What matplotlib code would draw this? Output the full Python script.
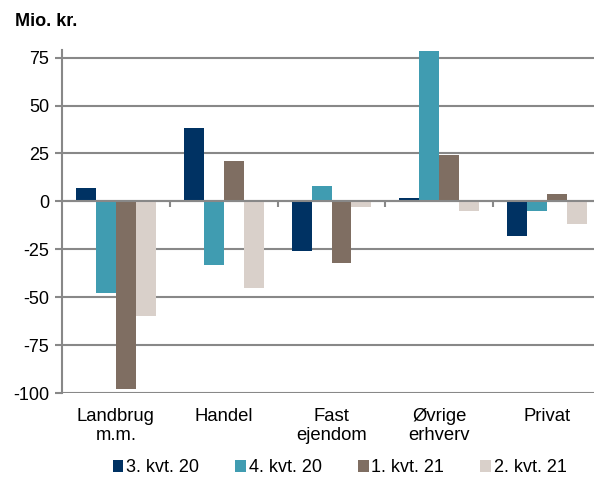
import numpy as np
import matplotlib.pyplot as plt

plt.rcParams['font.family'] = ['Liberation Sans', 'DejaVu Sans']
plt.rcParams['axes.unicode_minus'] = False

categories = ['Landbrug\nm.m.', 'Handel', 'Fast\nejendom', 'Øvrige\nerhverv', 'Privat']
series_names = ['3. kvt. 20', '4. kvt. 20', '1. kvt. 21', '2. kvt. 21']
q3_20 = [7, 38.5, -26, 2, -18]
q4_20 = [-48, -33, 8, 78.5, -5]
q1_21 = [-98, 21, -32, 24, 4]
q2_21 = [-60, -45, -3, -5, -12]
colors = ['#003263', '#409CB1', '#7F6E62', '#D9D0CA']
yticks = [-100, -75, -50, -25, 0, 25, 50, 75]

fig = plt.figure(figsize=(5.94, 4.8), dpi=100)
# axes runs slightly past the right edge, as in the reference
ax = fig.add_axes([62 / 594, 87 / 480, 539 / 594, 343 / 480])

x = np.arange(len(categories))
w = 0.185
for i, (vals, col, name) in enumerate(zip([q3_20, q4_20, q1_21, q2_21], colors, series_names)):
    ax.bar(x + (i - 1.5) * w, vals, w, color=col, label=name, zorder=3)

ax.set_xlim(-0.5, len(categories) - 0.5)
ax.set_ylim(-100, 79)
ax.set_yticks(yticks)
ax.yaxis.grid(True, color='#888888', linewidth=1.5, zorder=0)

for s in ['top', 'right']:
    ax.spines[s].set_visible(False)
ax.spines['left'].set_color('#888888')
ax.spines['left'].set_linewidth(1.5)
# x axis line sits at zero
ax.spines['bottom'].set_position(('data', 0))
ax.spines['bottom'].set_color('#888888')
ax.spines['bottom'].set_linewidth(1.5)
ax.spines['bottom'].set_zorder(4)

ax.set_xticks(x)
ax.set_xticklabels([])
ax.tick_params(axis='x', length=0)
ax.set_xticks(np.arange(0.5, len(categories) - 0.5), minor=True)
ax.tick_params(axis='x', which='minor', length=4, width=1.5, color='#888888', direction='out')
ax.tick_params(axis='y', length=5, width=1.5, color='#888888', labelsize=13, pad=4)

for i, cat in enumerate(categories):
    ax.annotate(cat, xy=(i, 0), xycoords=('data', 'axes fraction'), xytext=(0, -11),
                textcoords='offset points', ha='center', va='top', fontsize=13.3,
                linespacing=1.15)

fig.text(15 / 594, 1 - 22 / 480, 'Mio. kr.', fontsize=13, fontweight='bold', va='center')

fig.legend(loc='center', bbox_to_anchor=(0.572, 1 - 468 / 480), ncol=4, frameon=False,
           fontsize=13, handlelength=0.6, handleheight=0.6, handletextpad=0.15,
           columnspacing=2.0)

fig.savefig('out.png', dpi=100)
